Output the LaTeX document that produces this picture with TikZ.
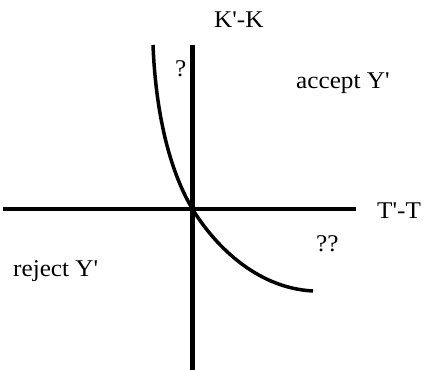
\documentclass[tikz,border=0pt]{standalone}
\usepackage{fontspec}
\setmainfont{Liberation Serif}[Ligatures=TeXOff]
\begin{document}
\begin{tikzpicture}[x=1pt,y=-1pt,
  axis/.style={line width=4.5pt},
  curveline/.style={line width=3.5pt},
  lbl/.style={inner sep=0pt,anchor=base west,font=\fontsize{24}{28}\selectfont}]
\useasboundingbox (0,0) rectangle (424,370);
\coordinate (hl) at (3,209);
\coordinate (hr) at (356,209);
\coordinate (vt) at (192.5,45);
\coordinate (vb) at (192.5,370);
\coordinate (c0) at (153,45);
\coordinate (o) at (192.5,209);
\coordinate (c1) at (313,291);
\draw[axis] (hl) -- (hr);
\draw[axis] (vt) -- (vb);
\draw[curveline] (c0) .. controls (156,120) and (172,175) .. (o)
  .. controls (213,243) and (255,288) .. (c1);
\node[lbl] (kk) at (214,27) {\scalebox{1.05}[1]{K'-K}};
\node[lbl] (q1) at (175,76) {\scalebox{1.05}[1]{?}};
\node[lbl] (acc) at (296,88) {\scalebox{1.05}[1]{accept Y'}};
\node[lbl] (tt) at (377,218) {\scalebox{1.05}[1]{T'-T}};
\node[lbl] (q2) at (316,251) {\scalebox{1.05}[1]{??}};
\node[lbl] (rej) at (13,276) {\scalebox{1.05}[1]{reject Y'}};
\end{tikzpicture}
\end{document}
